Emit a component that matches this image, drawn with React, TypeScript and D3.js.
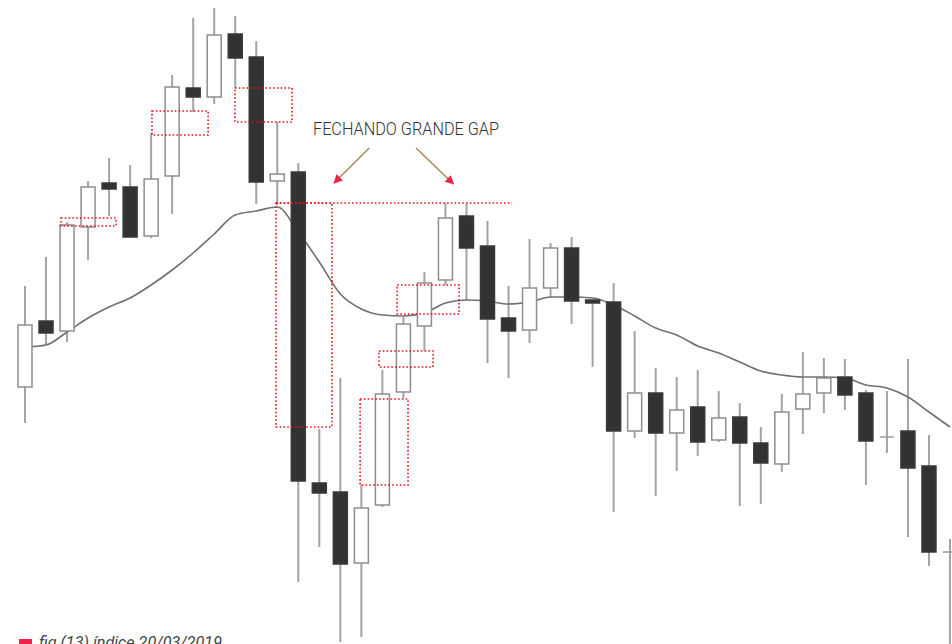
import React from "react";
import * as d3 from "d3";

// candle prices (index points)
const opens = [
  96130, 96790, 96690, 97730, 98170, 98130, 97640, 98240, 99120, 99030,
  99660, 99430, 98190, 98280, 95170, 95080, 94370, 94950, 96080, 96740,
  97200, 97840, 97540, 96820, 96700, 97120, 97520, 97000, 96980, 95690,
  96070, 95670, 95930, 95600, 95830, 95570, 95360, 95910, 96070, 96230,
  96070, 95630, 95690, 95340, 94480,
];
const highs = [
  97140, 97430, 97780, 98190, 98420, 98350, 98670, 99250, 99820, 99920,
  99840, 99590, 98780, 98370, 95710, 96220, 95150, 96300, 96830, 97280,
  97970, 97970, 97790, 97140, 97610, 97570, 97630, 97000, 97170, 96690,
  96320, 96230, 96300, 96090, 95970, 95730, 96060, 96480, 96420, 96410,
  96100, 96090, 96410, 95650, 94610,
];
const lows = [
  95770, 96550, 96580, 97400, 97840, 97630, 97620, 97860, 98880, 98960,
  99120, 97960, 97950, 94180, 94530, 93580, 93630, 94930, 96020, 96490,
  97150, 97000, 96370, 96220, 96570, 97030, 96760, 96330, 94880, 95620,
  95040, 95290, 95440, 95580, 94940, 94960, 95280, 95660, 95870, 95900,
  95150, 95470, 94630, 94340, 93300,
];
const closes = [
  96750, 96670, 97750, 98130, 98110, 97630, 98210, 99130, 99030, 99650,
  99420, 98180, 98260, 95190, 95070, 94360, 94920, 96060, 96760, 97170,
  97820, 97520, 96810, 96690, 97120, 97520, 96990, 96970, 95690, 96070,
  95670, 95900, 95580, 95820, 95570, 95370, 95880, 96060, 96220, 96050,
  95590, 95630, 95320, 94480, 94480,
];
// moving average as drawn
const movingAvg = [
  96530, 96550, 96680, 96820, 96930, 97020, 97150, 97300, 97470, 97660,
  97850, 97890, 97930, 97680, 97380, 97060, 96910, 96850, 96840, 96870,
  96970, 97000, 96990, 96960, 96980, 97030, 97030, 97020, 96950, 96840,
  96720, 96650, 96540, 96470, 96380, 96290, 96250, 96230, 96230, 96220,
  96150, 96120, 96030, 95880, 95730,
];

// gap boxes: [from index, to index, top price, bottom price]
const gapBoxes = [
  [1.71, 4.33, 97820, 97740],
  [6.04, 8.71, 98890, 98650],
  [9.99, 12.7, 99120, 98780],
  [11.94, 14.6, 97970, 95730],
  [17.7, 20.65, 97150, 96860],
  [16.84, 19.41, 96490, 96330],
  [15.94, 18.22, 96010, 95150],
];
const gapLine = [11.94, 23.17, 97970];

const title = "FECHANDO GRANDE GAP";
const caption = "fig (13) índice 20/03/2019";
// arrows: [x1 idx, y1 price, x2 idx, y2 price]
const arrows = [
  [16.37, 98520, 14.7, 98170],
  [18.6, 98520, 20.38, 98160],
];

const W = 952;
const H = 644;

export default function App() {
  const x = d3.scaleLinear().domain([0, 44]).range([25, 950]);
  const y = d3.scaleLinear().domain([93560, 100000]).range([H, 0]);
  const bw = 14;

  const maPath = d3
    .line<number>()
    .x((_, i) => x(i))
    .y((d) => y(d))
    .curve(d3.curveMonotoneX)(movingAvg);

  return (
    <svg
      width={W}
      height={H}
      style={{ position: "absolute", left: 0, top: 0, background: "#fff" }}
    >
      <defs>
        <marker
          id="head"
          viewBox="0 0 10 10"
          refX="9"
          refY="5"
          markerWidth="9"
          markerHeight="9"
          markerUnits="userSpaceOnUse"
          orient="auto"
        >
          <path d="M0,0 L10,5 L0,10 Z" fill="#f0244a" />
        </marker>
      </defs>

      {/* wicks */}
      {highs.map((h, i) => (
        <line
          key={"w" + i}
          x1={x(i)}
          x2={x(i)}
          y1={y(h)}
          y2={y(lows[i])}
          stroke="#a3a3a3"
          strokeWidth={2}
        />
      ))}

      <path d={maPath || ""} fill="none" stroke="#707070" strokeWidth={1.6} />

      {/* bodies */}
      {opens.map((o, i) => {
        const c = closes[i];
        const top = y(Math.max(o, c));
        const bot = y(Math.min(o, c));
        if (o === c) {
          return (
            <line
              key={"b" + i}
              x1={x(i) - bw / 2}
              x2={x(i) + bw / 2}
              y1={top}
              y2={top}
              stroke="#9a9a9a"
              strokeWidth={1.5}
            />
          );
        }
        const down = c < o;
        return (
          <rect
            key={"b" + i}
            x={x(i) - bw / 2}
            y={top}
            width={bw}
            height={Math.max(bot - top, 2)}
            fill={down ? "#323232" : "#fff"}
            stroke={down ? "#3a3a3a" : "#8e8e8e"}
            strokeWidth={1.5}
          />
        );
      })}

      {/* gap annotations */}
      {gapBoxes.map((b, i) => (
        <rect
          key={"g" + i}
          x={x(b[0])}
          y={y(b[2])}
          width={x(b[1]) - x(b[0])}
          height={y(b[3]) - y(b[2])}
          fill="none"
          stroke="#e8121c"
          strokeWidth={1.6}
          strokeDasharray="1.6 2.2"
        />
      ))}
      <line
        x1={x(gapLine[0])}
        x2={x(gapLine[1])}
        y1={y(gapLine[2])}
        y2={y(gapLine[2])}
        stroke="#e8121c"
        strokeWidth={1.6}
        strokeDasharray="1.6 2.2"
      />

      <text
        x={313}
        y={135}
        fontFamily="Roboto, 'Noto Sans', sans-serif"
        fontWeight={300}
        fontSize={19}
        fill="#333"
        textLength={186}
        lengthAdjust="spacingAndGlyphs"
      >
        {title}
      </text>
      {arrows.map((a, i) => (
        <line
          key={"a" + i}
          x1={x(a[0])}
          y1={y(a[1])}
          x2={x(a[2])}
          y2={y(a[3])}
          stroke="#a58a5c"
          strokeWidth={1.5}
          markerEnd="url(#head)"
        />
      ))}

      {/* caption */}
      <rect x={19} y={639} width={13} height={13} fill="#f0244a" />
      <text
        x={39}
        y={648}
        fontFamily="Roboto, 'Noto Sans', sans-serif"
        fontStyle="italic"
        fontSize={16}
        fill="#444"
        textLength={183}
        lengthAdjust="spacingAndGlyphs"
      >
        {caption}
      </text>
    </svg>
  );
}
